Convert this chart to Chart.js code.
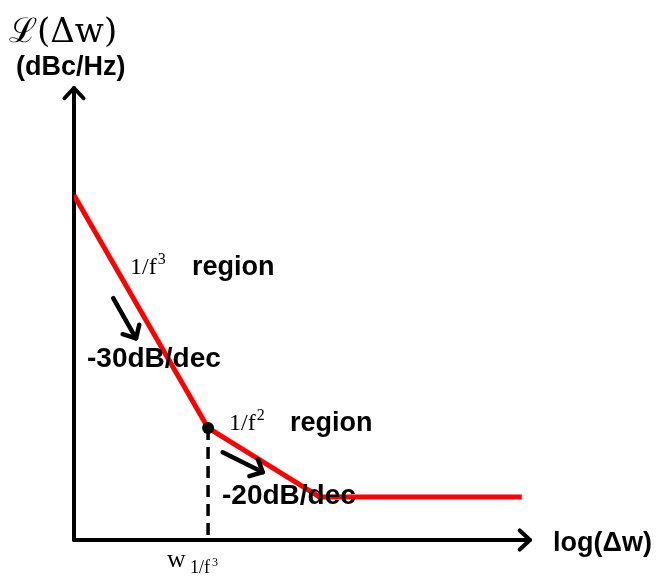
<!DOCTYPE html>
<html>
<head>
<meta charset="utf-8">
<script src="https://cdn.jsdelivr.net/npm/chart.js@4.4.0/dist/chart.umd.min.js"></script>
<style>
  html, body { margin: 0; padding: 0; background: #fff; }
  #wrap { width: 656px; height: 576px; }
</style>
</head>
<body>
<div id="wrap"><canvas id="noise"></canvas></div>
<script>
// phase noise asymptotes (arbitrary log units)
const logOffset = [0, 2.94, 5.39, 9.82];
const noiseLevel = [7.63, 2.48, 0.95, 0.95];
const cornerIdx = 1;

// slope labels
const slopeLabels = ["-30dB/dec", "-20dB/dec"];
const regionPowers = ["3", "2"];

const serif = '"DejaVu Serif", "Liberation Serif", serif';
const serif2 = '"Liberation Serif", "DejaVu Serif", serif';
const sans = '"Liberation Sans", Arial, sans-serif';

const arrowLine = (ctx, x1, y1, x2, y2, head, w) => {
  const a = Math.atan2(y2 - y1, x2 - x1);
  ctx.save();
  ctx.strokeStyle = "#000";
  ctx.lineWidth = w;
  ctx.lineCap = "round";
  ctx.lineJoin = "round";
  ctx.beginPath();
  ctx.moveTo(x1, y1);
  ctx.lineTo(x2, y2);
  ctx.stroke();
  ctx.beginPath();
  ctx.moveTo(x2 - head * Math.cos(a - 0.75), y2 - head * Math.sin(a - 0.75));
  ctx.lineTo(x2, y2);
  ctx.lineTo(x2 - head * Math.cos(a + 0.75), y2 - head * Math.sin(a + 0.75));
  ctx.stroke();
  ctx.restore();
};

// "1/f" with a raised power
const powerLabel = (ctx, txt, p, x, y) => {
  ctx.font = "24px " + serif2;
  ctx.fillText(txt, x, y);
  const w = ctx.measureText(txt).width;
  ctx.font = "16px " + serif2;
  ctx.fillText(p, x + w + 1, y - 10);
};

const sketch = {
  id: "sketch",
  beforeDatasetsDraw(chart) {
    const { ctx, scales: { x, y } } = chart;
    const x0 = x.getPixelForValue(0), y0 = y.getPixelForValue(0);
    // axes
    arrowLine(ctx, x0, y0, x0, y.getPixelForValue(10), 14, 4);
    arrowLine(ctx, x0, y0, x.getPixelForValue(10), y0, 14, 4);
    // dashed drop from the corner
    const cx = x.getPixelForValue(logOffset[cornerIdx]);
    ctx.save();
    ctx.strokeStyle = "#000";
    ctx.lineWidth = 3.5;
    ctx.setLineDash([12, 7]);
    ctx.beginPath();
    ctx.moveTo(cx, y.getPixelForValue(noiseLevel[cornerIdx]));
    ctx.lineTo(cx, y0);
    ctx.stroke();
    ctx.restore();
  },
  afterDatasetsDraw(chart) {
    const { ctx, scales: { x, y } } = chart;
    const px = (v) => x.getPixelForValue(v);
    const py = (v) => y.getPixelForValue(v);

    // corner dot
    ctx.save();
    ctx.fillStyle = "#000";
    ctx.beginPath();
    ctx.arc(px(logOffset[cornerIdx]), py(noiseLevel[cornerIdx]), 6, 0, Math.PI * 2);
    ctx.fill();
    ctx.restore();

    // slope arrows
    arrowLine(ctx, px(0.86), py(5.35), px(1.36), py(4.46), 14, 4.5);
    arrowLine(ctx, px(3.26), py(1.94), px(4.14), py(1.5), 14, 4.5);

    ctx.save();
    ctx.fillStyle = "#000";
    ctx.textBaseline = "alphabetic";
    ctx.textAlign = "left";

    // y title
    ctx.font = "34px " + serif;
    ctx.fillText("ℒ(Δw)", 9, 42);
    ctx.font = "bold 27px " + sans;
    ctx.fillText("(dBc/Hz)", 16, 75);

    // x title
    ctx.fillText("log(Δw)", 553, 551);

    // region labels
    powerLabel(ctx, "1/f", regionPowers[0], 130, 274);
    powerLabel(ctx, "1/f", regionPowers[1], 229, 430);
    ctx.font = "bold 27px " + sans;
    ctx.fillText("region", 192, 275);
    ctx.fillText("region", 290, 431);

    // slopes
    ctx.font = "bold 28px " + sans;
    ctx.fillText(slopeLabels[0], 87, 367);
    ctx.fillText(slopeLabels[1], 222, 504);

    // corner frequency
    ctx.font = "26px " + serif2;
    ctx.fillText("w", 167, 567);
    ctx.font = "18px " + serif2;
    ctx.fillText("1/f", 190, 573);
    ctx.font = "12px " + serif2;
    ctx.fillText("3", 212, 566);
    ctx.restore();
  }
};

new Chart(document.getElementById("noise"), {
  type: "scatter",
  data: {
    datasets: [{
      data: logOffset.map((v, i) => ({ x: v, y: noiseLevel[i] })),
      showLine: true,
      borderColor: "#ff0000",
      borderWidth: 5,
      pointRadius: 0,
      tension: 0,
      borderJoinStyle: "round"
    }]
  },
  options: {
    responsive: true,
    maintainAspectRatio: false,
    animation: false,
    layout: { padding: { left: 74, right: 126, top: 88, bottom: 36 } },
    plugins: { legend: { display: false }, tooltip: { enabled: false } },
    scales: {
      x: { type: "linear", min: 0, max: 10, display: false },
      y: { type: "linear", min: 0, max: 10, display: false }
    }
  },
  plugins: [sketch]
});
</script>
</body>
</html>
